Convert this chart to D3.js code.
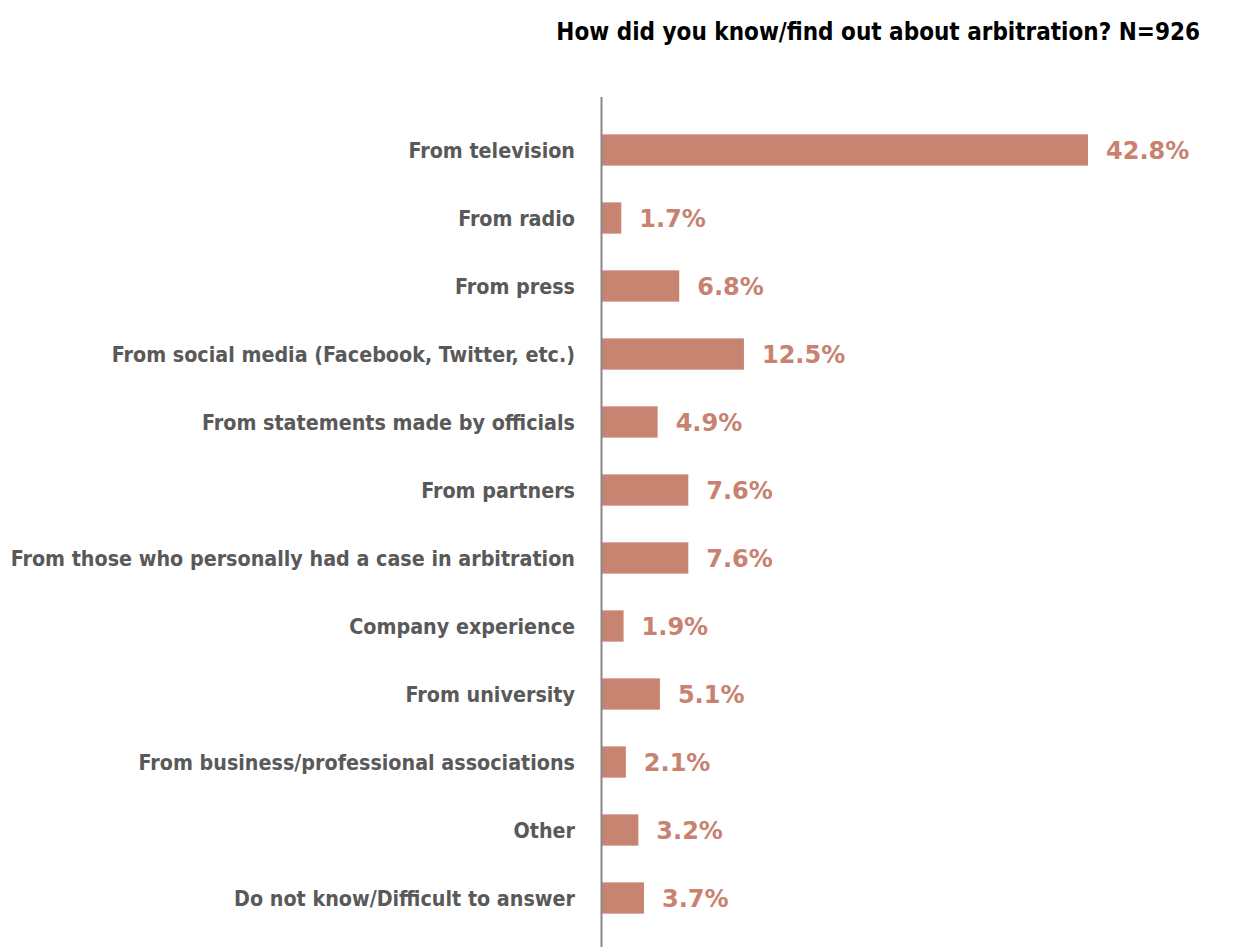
<!DOCTYPE html>
<html>
<head>
<meta charset="utf-8">
<script src="https://cdn.jsdelivr.net/npm/d3@7"></script>
<style>
  html, body { margin: 0; padding: 0; background: #fff; }
  svg { display: block; }
</style>
</head>
<body>
<svg id="chart" width="1235" height="947"></svg>
<script>
const categories = [
  "From television",
  "From radio",
  "From press",
  "From social media (Facebook, Twitter, etc.)",
  "From statements made by officials",
  "From partners",
  "From those who personally had a case in arbitration",
  "Company experience",
  "From university",
  "From business/professional associations",
  "Other",
  "Do not know/Difficult to answer"
];
const values = [42.8, 1.7, 6.8, 12.5, 4.9, 7.6, 7.6, 1.9, 5.1, 2.1, 3.2, 3.7];
const title = "How did you know/find out about arbitration? N=926";

const svg = d3.select("#chart");
const condensed = "'DejaVu Sans Condensed', 'DejaVu Sans', sans-serif";
const regular = "'DejaVu Sans', sans-serif";

const x0 = 602;
const x = d3.scaleLinear().domain([0, 42.8]).range([x0, 1088]);
const y = d3.scaleBand().domain(categories).range([116, 932]).paddingInner(0.54).paddingOuter(0.27);

svg.append("text")
  .attr("x", 1200).attr("y", 39.5)
  .attr("text-anchor", "end")
  .attr("font-family", condensed)
  .attr("font-weight", "bold")
  .attr("font-size", 24)
  .attr("fill", "#000")
  .text(title);

svg.selectAll("rect.bar").data(values).join("rect")
  .attr("class", "bar")
  .attr("x", x0)
  .attr("y", (d, i) => y(categories[i]))
  .attr("width", d => x(d) - x0)
  .attr("height", y.bandwidth())
  .attr("fill", "#c78471");

svg.selectAll("text.cat").data(categories).join("text")
  .attr("class", "cat")
  .attr("x", 575)
  .attr("y", d => y(d) + y.bandwidth() / 2)
  .attr("dy", "0.39em")
  .attr("text-anchor", "end")
  .attr("font-family", condensed)
  .attr("font-weight", "bold")
  .attr("font-size", 21.3)
  .attr("fill", "#595959")
  .text(d => d);

svg.selectAll("text.val").data(values).join("text")
  .attr("class", "val")
  .attr("x", d => x(d) + 18)
  .attr("y", (d, i) => y(categories[i]) + y.bandwidth() / 2)
  .attr("dy", "0.36em")
  .attr("font-family", regular)
  .attr("font-weight", "bold")
  .attr("font-size", 24)
  .attr("fill", "#c8826f")
  .text(d => d.toFixed(1) + "%");

svg.append("line")
  .attr("x1", 601.5).attr("x2", 601.5)
  .attr("y1", 97).attr("y2", 947)
  .attr("stroke", "#888")
  .attr("stroke-width", 2);
</script>
</body>
</html>
